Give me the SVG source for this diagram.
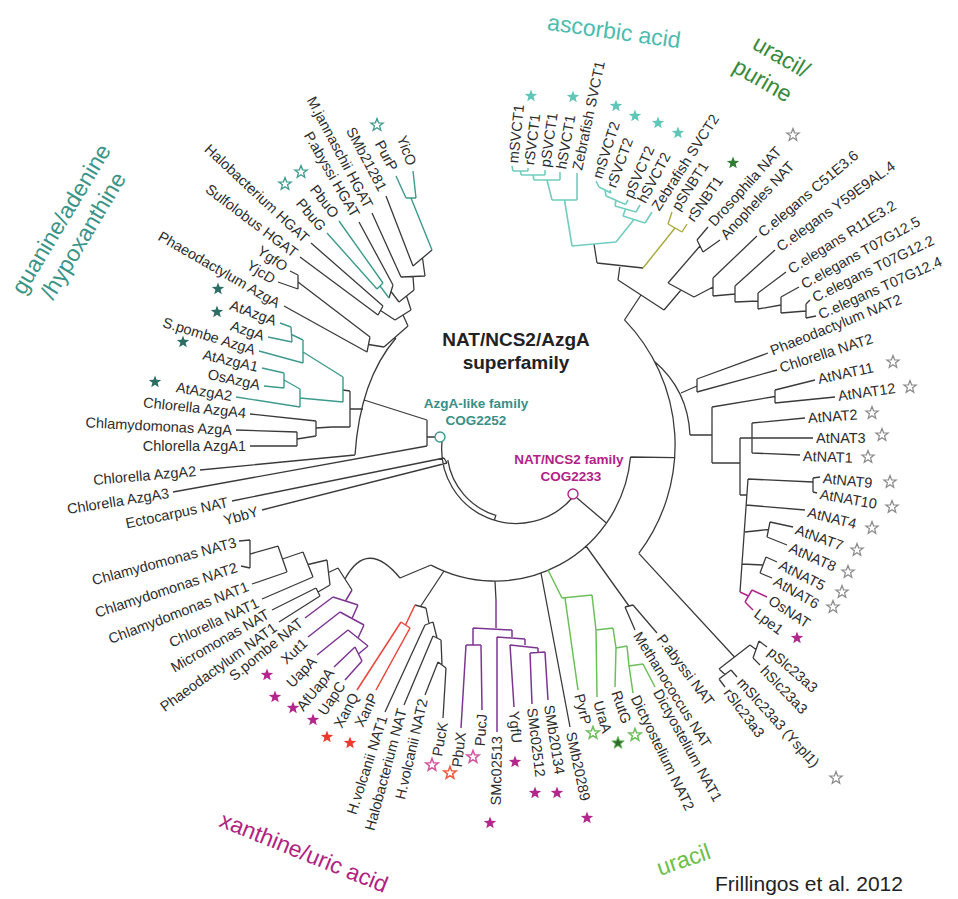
<svg xmlns="http://www.w3.org/2000/svg" width="958" height="899" viewBox="0 0 958 899">
<defs>
<path id="s" d="M0,-6.5 L1.6,-2.2 L6.2,-2 L2.6,0.8 L3.8,5.3 L0,2.7 L-3.8,5.3 L-2.6,0.8 L-6.2,-2 L-1.6,-2.2Z"/>
</defs>
<style>
.k{stroke:#3a3a3a;stroke-width:1.3;fill:none}
.tl{stroke:#3d9a8c;stroke-width:1.4;fill:none}
.ta{stroke:#72cdbf;stroke-width:1.6;fill:none}
.ol{stroke:#a8a83a;stroke-width:1.4;fill:none}
.pu{stroke:#7d3592;stroke-width:1.5;fill:none}
.rd{stroke:#e9473c;stroke-width:1.5;fill:none}
.gr{stroke:#6cbf5a;stroke-width:1.5;fill:none}
.mg{stroke:#b0278b;stroke-width:1.5;fill:none}
text{font-family:"Liberation Sans",Arial,sans-serif}
.t{font-size:14.5px;fill:#2d2d2d;dominant-baseline:central}
.e{text-anchor:end}
.g{font-size:23px}
.sf-tl{fill:#2c6e63}
.so-tl{fill:#fff;stroke:#3d9a8c;stroke-width:1.3}
.sf-ta{fill:#5fc6b8}
.sf-dg{fill:#2f7d32}
.so-gy{fill:#fff;stroke:#8a8a8a;stroke-width:1.2}
.sf-mg{fill:#b3278c}
.sf-rd{fill:#ec3b2e}
.so-pk{fill:#fff;stroke:#d6559f;stroke-width:1.5}
.so-or{fill:#fff;stroke:#ef5a3c;stroke-width:1.5}
.so-gr{fill:#fff;stroke:#6cbf5a;stroke-width:1.5}
.sf-dgo{fill:#2f6b2f;stroke:#6cbf5a;stroke-width:1}
</style>
<rect width="958" height="899" fill="#fff"/>

<g id="connectors">
<path class="k" d="M427 420 L427 446 M427 437 L435 437 M427 420 L364 400 M173 492 L427 446 M200 470 L355 455 M355 455 Q360 380 396 338
M250 414 L316 421 M236 430 L297 432 M250 446 L297 446 M297 432 L297 446 M297 439 L316 436 M316 421 L316 436 M316 428 L332 427
M332 427 L350 427 M350 391 L350 427 M350 409 L363 409 M343 390 L350 391
M386 196 L413 266 M432 250 L413 266 M422.5 258 L425 276 M372 213 L401 277 M401 277 L425 276 M413 276.5 L414 290
M359 222 L393 285 M393 285 L389 298 M391 291.5 L399 302 M414 290 L399 302 M406.5 296 L411 310
M311 243 L383 306 M300 257 L378 315 M383 306 L378 315 M380.5 310.5 L395 320 M411 310 L395 320 M403 315 L408 326
M290 271 L298 275 M278 282 L298 289 M298 275 L298 289 M298 282 L370 337 M284 306 L367 352 M370 337 L367 352 M368.5 344.5 L384 347 M408 326 L384 347"/>
<path class="tl" d="M413 171 L416 198 M396 176 L406 198 M406 198 L416 198 M411 198 L432 250
M339 221 L383 283 M327 233 L377 289 M383 283 L377 289 M380 286 L389 298
M280 323 L291 327 M268 337 L292 342 M291 327 L292 342 M291.5 334.5 L303 340 M259 351 L303 363 M303 340 L303 363 M303 352 L343 377
M262 368 L284 373 M264 386 L284 388 M284 373 L284 388 M284 380 L300 389 M236 397 L300 407 M300 389 L300 407 M300 398 L343 402 M343 377 L343 402"/>
<path class="k" d="M442 442 A74.4 74.4 0 0 0 573 497
M232 501 L444 458 M262 510 L447 463 M444 458 L447 463 M447.8 460.2 A69 69 0 0 0 495.8 515.4 L494.2 520.6
M624.5 319.9 A180 180 0 0 1 638.8 553.4 M630.5 457 A136 136 0 0 1 431.1 565.1 M630.5 457 L674.6 457.6 M577 498 L606.4 523
M654 361 Q688 390 690 435 M768 353 L697 379 M777 370 L697 392 M697 379 L697 392 M697 386 L681 393
M690 435 L712 435 M712 407 L712 463 M815 380 L775 390 M835 397 L775 403 M775 390 L775 403 M775 396.5 L712 407 M712 463 L740 463 M740 438 L740 495
M813 438 L740 438 M805 418 L752 423 M800 455 L752 453 M752 423 L752 453 M740 495 L747 495
M820 477 L813 478 M817 493 L813 492 M813 478 L813 492 M813 482 L748 479 M748 479 L740 592 M805 510 L746 505
M793 527 L770 522 M787 545 L767 537 M770 522 L767 537 M768.5 529.5 L745 532 M777 562 L766 557 M772 578 L760 573 M766 557 L760 573 M763 565 L742 564
M767 647 L759 641 M760 665 L753 658 M759 641 L753 658 M756 649.5 L750 645 M737 677 L731 670 M725 687 L719 679 M731 670 L719 679 M725 674.5 L719 669 M750 645 L719 669 M734.5 657 L638.8 553.4
M657 633 L633 605 M635 630 L625 607 M625 607 L633 605 M629 606 L586 546
M594 244 L597 263 M597 263 L643 268 M620 265.5 L618 280 M708 227 L697 240 M720 240 L703 252 M697 240 L703 252 M700 246 L668 283
M810 300 L806 304 M816 316 L806 318 M806 304 L806 318 M806 311 L781 313 M799 287 L781 297 M781 297 L781 313 M781 305 L758 309
M786 272 L758 293 M758 293 L758 309 M758 301 L735 302 M775 250 L735 286 M735 286 L735 302 M735 294 L713 296 M757 236 L713 278 M713 278 L713 296 M713 287 L694 297
M668 283 L694 297 M681 290 L664 310 M618 280 L664 310 M641 295 L624.5 320
M570 727 L541 573 M495 581 L496 600
M385 712 L425 625 M404 705 L433 636 M425 695 L438 662 M443 718 L446 668 M438 662 L446 668 M442 665 L441 640 M433 636 L441 640 M437 638 L433 622 M425 625 L433 622 M429 623.5 L426 608 M415 605 L426 608 M420.5 606.5 L444 571
M239 541 L250 540 M241 566 L250 568 M250 540 L250 568 M250 554 L278 546 M252 584 L287 572 M278 546 L287 572 M282.5 559 L303 552 M262 599 L313 577 M303 552 L313 577 M308 564.5 L327 560
M272 610 L316 588 M279 622 L320 596 M316 588 L320 596 M318 592 L330 585 M327 560 L330 585 M328.5 572.5 L338 568 M338 568 L352 590 M345 579 Q367 538 400 578 M400 578 L431 565"/>
<path class="mg" d="M767 597 L752 590 M753 610 L745 602 M752 590 L745 602 M748.5 596 L740 592"/>
<path class="ta" d="M512 166 L513 171 M528 168 L528 171 M513 171 L528 171 M520.5 171 L521 175 M545 170 L545 175 M521 175 L545 175 M533 175 L534 180 M560 172 L560 180 M534 180 L560 180 M547 180 L552 200 M577 173 L577 200 M552 200 L577 200 M564.5 200 L572 246
M596 181 L599 187 M610 190 L611 193 M599 187 L611 193 M605 190 L606 196 M628 200 L625.6 204.4 M606 196 L625.6 204.4 M616 200 L615 206 M640 205 L636 212 M615 206 L636 212 M625.5 209 L623 216 M652 212 L645 223 M623 216 L645 223 M634 219.5 L616 242 M572 246 L616 242"/>
<path class="ol" d="M672 212 L668 224 M687 224 L682 232 M668 224 L682 232 M675 228 L643 268"/>
<path class="gr" d="M548 570 L562 598 M562 598 L592 595 M578 690 L565 598 M592 595 L596 630 M596 630 L613 628 M597 697 L596 630 M613 628 L616 648 M616 648 L627 646 M615 687 L616 648 M627 646 L629 666 M629 666 L643 664 M633 693 L629 666 M655 687 L643 664"/>
<path class="pu" d="M496 600 L496 628 M473 628 L512 630 M473 628 L473 645 M466 645 L481 645 M482 710 L481 645 M461 728 L466 645 M512 630 L512 637 M497 637 L525 639 M497 732 L497 637 M525 639 L525 645 M510 645 L538 648 M514 707 L510 645 M538 648 L538 653 M530 653 L545 652 M532 704 L530 653 M548 700 L545 652
M305 618 L333 597 M308 637 L340 612 M317 655 L348 630 M334 667 L355 647 M345 680 L362 661 M355 647 L362 661 M358.5 654 L368 646 M348 630 L368 646 M358 638 L364 625 M340 612 L364 625 M352 618.5 L358 605 M333 597 L358 605 M345.5 601 L352 590"/>
<path class="rd" d="M357 690 L401 622 M376 690 L410 628 M401 622 L410 628 M405.5 625 L415 605"/>
</g>

<g id="root-azga"><circle cx="440" cy="437" r="5" fill="#fff" stroke="#3d9a8c" stroke-width="1.4"/></g>
<g id="root-nat"><circle cx="573" cy="494" r="5" fill="#fff" stroke="#b0278b" stroke-width="1.4"/></g>

<g id="title"><text x="516" y="346" text-anchor="middle" font-size="19" font-weight="bold" fill="#222">NAT/NCS2/AzgA</text><text x="516" y="369" text-anchor="middle" font-size="19" font-weight="bold" fill="#222">superfamily</text></g>
<g id="azga-family"><text x="476" y="408" text-anchor="middle" font-size="13.5" font-weight="bold" fill="#3a8f86">AzgA-like family</text><text x="476" y="425" text-anchor="middle" font-size="13.5" font-weight="bold" fill="#3a8f86">COG2252</text></g>
<g id="nat-family"><text x="569" y="464" text-anchor="middle" font-size="13.5" font-weight="bold" fill="#b0238a">NAT/NCS2 family</text><text x="571" y="481" text-anchor="middle" font-size="13.5" font-weight="bold" fill="#b0238a">COG2233</text></g>

<g id="grp-guanine" fill="#3a9488"><text class="g" transform="translate(24 296) rotate(-59)">guanine/adenine</text><text class="g" transform="translate(53 301) rotate(-59)">/hypoxanthine</text></g>
<g id="grp-ascorbic"><text class="g" text-anchor="middle" fill="#4cbcae" transform="translate(613 39) rotate(8)">ascorbic acid</text></g>
<g id="grp-uracilpurine" fill="#3b8a3b"><text class="g" transform="translate(751 48) rotate(30)">uracil/</text><text class="g" transform="translate(731 71) rotate(30)">purine</text></g>
<g id="grp-xanthine"><text class="g" fill="#b0237f" transform="translate(218 826) rotate(22)">xanthine/uric acid</text></g>
<g id="grp-uracil"><text class="g" fill="#6cbf4a" transform="translate(660 876) rotate(-19)">uracil</text></g>
<g id="credit"><text x="715" y="891" font-size="21" fill="#222">Frillingos et al. 2012</text></g>

<g id="leaves-guanine">
<g id="n-YicO"><text class="t e" transform="translate(412 165) rotate(70)">YicO</text></g>
<g id="n-PurP"><text class="t e" transform="translate(394 170) rotate(62)">PurP</text><use href="#s" x="377" y="125" class="so-tl"/></g>
<g id="n-SMb21281"><text class="t e" transform="translate(383 190) rotate(62)">SMb21281</text></g>
<g id="n-Mjann"><text class="t e" transform="translate(369 207) rotate(62)">M.jannaschii HGAT</text></g>
<g id="n-Pabyssi-HGAT"><text class="t e" transform="translate(356 216) rotate(60)">P.abyssi HGAT</text></g>
<g id="n-PbuO"><text class="t e" transform="translate(336 216) rotate(52)">PbuO</text><use href="#s" x="301" y="172" class="so-tl"/></g>
<g id="n-PbuG"><text class="t e" transform="translate(323 229) rotate(50)">PbuG</text><use href="#s" x="285" y="184" class="so-tl"/></g>
<g id="n-Halo-HGAT"><text class="t e" transform="translate(307 240) rotate(43)">Halobacterium HGAT</text></g>
<g id="n-Sulfo-HGAT"><text class="t e" transform="translate(296 254) rotate(37)">Sulfolobus HGAT</text></g>
<g id="n-YgfO"><text class="t e" transform="translate(286 268) rotate(35)">YgfO</text></g>
<g id="n-YjcD"><text class="t e" transform="translate(274 280) rotate(32)">YjcD</text></g>
<g id="n-Phaeo-AzgA"><text class="t e" transform="translate(279 304) rotate(30)">Phaeodactylum AzgA</text></g>
<g id="n-AtAzgA"><text class="t e" transform="translate(276 321) rotate(20)">AtAzgA</text><use href="#s" x="218" y="289" class="sf-tl"/></g>
<g id="n-AzgA"><text class="t e" transform="translate(264 336) rotate(18)">AzgA</text><use href="#s" x="217" y="312" class="sf-tl"/></g>
<g id="n-Spombe-AzgA"><text class="t e" transform="translate(255 350) rotate(17)">S.pombe AzgA</text></g>
<g id="n-AtAzgA1"><text class="t e" transform="translate(258 367) rotate(13)">AtAzgA1</text><use href="#s" x="183" y="342" class="sf-tl"/></g>
<g id="n-OsAzgA"><text class="t e" transform="translate(260 385) rotate(12)">OsAzgA</text></g>
<g id="n-AtAzgA2"><text class="t e" transform="translate(232 396) rotate(9)">AtAzgA2</text><use href="#s" x="155" y="382" class="sf-tl"/></g>
<g id="n-Chlorella-AzgA4"><text class="t e" transform="translate(246 413) rotate(6)">Chlorella AzgA4</text></g>
<g id="n-Chlamy-AzgA"><text class="t e" transform="translate(232 430) rotate(3)">Chlamydomonas AzgA</text></g>
<g id="n-Chlorella-AzgA1"><text class="t e" transform="translate(246 446) rotate(0)">Chlorella AzgA1</text></g>
<g id="n-Chlorella-AzgA2"><text class="t e" transform="translate(196 471) rotate(-5)">Chlorella AzgA2</text></g>
<g id="n-Chlorella-AzgA3"><text class="t e" transform="translate(169 493) rotate(-9)">Chlorella AzgA3</text></g>
<g id="n-Ectocarpus"><text class="t e" transform="translate(228 502) rotate(-12)">Ectocarpus NAT</text></g>
<g id="n-YbbY"><text class="t e" transform="translate(258 511) rotate(-16)">YbbY</text></g>
</g>

<g id="leaves-bottomleft">
<g id="n-Chlamy-NAT3"><text class="t e" transform="translate(236 542) rotate(-15)">Chlamydomonas NAT3</text></g>
<g id="n-Chlamy-NAT2"><text class="t e" transform="translate(237 567) rotate(-18)">Chlamydomonas NAT2</text></g>
<g id="n-Chlamy-NAT1"><text class="t e" transform="translate(248 586) rotate(-21)">Chlamydomonas NAT1</text></g>
<g id="n-Chlorella-NAT1"><text class="t e" transform="translate(258 602) rotate(-25)">Chlorella NAT1</text></g>
<g id="n-Micromonas"><text class="t e" transform="translate(268 613) rotate(-30)">Micromonas NAT</text></g>
<g id="n-Phaeo-NAT1"><text class="t e" transform="translate(275 626) rotate(-36)">Phaeodactylum NAT1</text></g>
<g id="n-Spombe-NAT"><text class="t e" transform="translate(301 621) rotate(-39)">S.pombe NAT</text></g>
<g id="n-Xut1"><text class="t e" transform="translate(305 641) rotate(-43)">Xut1</text><use href="#s" x="267" y="675" class="sf-mg"/></g>
<g id="n-UapA"><text class="t e" transform="translate(314 659) rotate(-46)">UapA</text><use href="#s" x="275" y="697" class="sf-mg"/></g>
<g id="n-AfUapA"><text class="t e" transform="translate(331 670) rotate(-51)">AfUapA</text><use href="#s" x="293" y="708" class="sf-mg"/></g>
<g id="n-UapC"><text class="t e" transform="translate(342 683) rotate(-56)">UapC</text><use href="#s" x="313" y="720" class="sf-mg"/></g>
<g id="n-XanQ"><text class="t e" transform="translate(355 694) rotate(-62)">XanQ</text><use href="#s" x="327" y="737" class="sf-rd"/></g>
<g id="n-XanP"><text class="t e" transform="translate(374 694) rotate(-64)">XanP</text><use href="#s" x="350" y="743" class="sf-rd"/></g>
<g id="n-Hvol-NAT1"><text class="t e" transform="translate(383 716) rotate(-72)">H.volcanii NAT1</text></g>
<g id="n-Halo-NAT"><text class="t e" transform="translate(402 709) rotate(-75)">Halobacterium NAT</text></g>
<g id="n-Hvol-NAT2"><text class="t e" transform="translate(423 699) rotate(-77)">H.volcanii NAT2</text></g>
<g id="n-PucK"><text class="t e" transform="translate(443 722) rotate(-80)">PucK</text><use href="#s" x="432" y="765" class="so-pk"/></g>
<g id="n-PbuX"><text class="t e" transform="translate(461 732) rotate(-83)">PbuX</text><use href="#s" x="450" y="773" class="so-or"/></g>
<g id="n-PucJ"><text class="t e" transform="translate(482 714) rotate(-86)">PucJ</text><use href="#s" x="473" y="757" class="so-pk"/></g>
<g id="n-SMc02513"><text class="t e" transform="translate(497 736) rotate(-89)">SMc02513</text><use href="#s" x="490" y="823" class="sf-mg"/></g>
</g>

<g id="leaves-bottomright">
<g id="n-YgfU"><text class="t" transform="translate(514 711) rotate(85)">YgfU</text><use href="#s" x="515" y="762" class="sf-mg"/></g>
<g id="n-SMc02512"><text class="t" transform="translate(532 708) rotate(83)">SMc02512</text><use href="#s" x="535" y="793" class="sf-mg"/></g>
<g id="n-SMb20134"><text class="t" transform="translate(549 705) rotate(81)">SMb20134</text><use href="#s" x="557" y="793" class="sf-mg"/></g>
<g id="n-SMb20289"><text class="t" transform="translate(571 732) rotate(78)">SMb20289</text><use href="#s" x="587" y="818" class="sf-mg"/></g>
<g id="n-PyrP"><text class="t" transform="translate(579 694) rotate(76)">PyrP</text><use href="#s" x="593" y="733" class="so-gr"/></g>
<g id="n-UraA"><text class="t" transform="translate(598 701) rotate(74)">UraA</text><use href="#s" x="618" y="743" class="sf-dgo"/></g>
<g id="n-RutG"><text class="t" transform="translate(616 691) rotate(71)">RutG</text><use href="#s" x="635" y="735" class="so-gr"/></g>
<g id="n-Dicty-NAT2"><text class="t" transform="translate(635 696) rotate(64)">Dictyostelium NAT2</text></g>
<g id="n-Dicty-NAT1"><text class="t" transform="translate(657 690) rotate(61)">Dictyostelium NAT1</text></g>
<g id="n-Methano"><text class="t" transform="translate(637 633) rotate(58)">Methanococcus NAT</text></g>
<g id="n-Pabyssi-NAT"><text class="t" transform="translate(660 636) rotate(53)">P.abyssi NAT</text></g>
<g id="n-rSlc"><text class="t" transform="translate(727 690) rotate(53)">rSlc23a3</text></g>
<g id="n-mSlc"><text class="t" transform="translate(740 680) rotate(48)">mSlc23a3 (Yspl1)</text><use href="#s" x="836" y="778" class="so-gy"/></g>
<g id="n-hSlc"><text class="t" transform="translate(763 668) rotate(46)">hSlc23a3</text></g>
<g id="n-pSlc"><text class="t" transform="translate(770 650) rotate(41)">pSlc23a3</text></g>
<g id="n-Lpe1"><text class="t" transform="translate(756 612) rotate(37)">Lpe1</text><use href="#s" x="797" y="638" class="sf-mg"/></g>
<g id="n-OsNAT"><text class="t" transform="translate(770 599) rotate(33)">OsNAT</text></g>
</g>

<g id="leaves-right">
<g id="n-AtNAT6"><text class="t" transform="translate(775 580) rotate(30)">AtNAT6</text><use href="#s" x="833" y="607" class="so-gy"/></g>
<g id="n-AtNAT5"><text class="t" transform="translate(780 564) rotate(27)">AtNAT5</text><use href="#s" x="842" y="592" class="so-gy"/></g>
<g id="n-AtNAT8"><text class="t" transform="translate(790 547) rotate(24)">AtNAT8</text><use href="#s" x="848" y="572" class="so-gy"/></g>
<g id="n-AtNAT7"><text class="t" transform="translate(796 529) rotate(20)">AtNAT7</text><use href="#s" x="857" y="550" class="so-gy"/></g>
<g id="n-AtNAT4"><text class="t" transform="translate(808 512) rotate(14)">AtNAT4</text><use href="#s" x="872" y="528" class="so-gy"/></g>
<g id="n-AtNAT10"><text class="t" transform="translate(820 494) rotate(10)">AtNAT10</text><use href="#s" x="892" y="507" class="so-gy"/></g>
<g id="n-AtNAT9"><text class="t" transform="translate(823 478) rotate(6)">AtNAT9</text><use href="#s" x="890" y="482" class="so-gy"/></g>
<g id="n-AtNAT1"><text class="t" transform="translate(803 456) rotate(2)">AtNAT1</text><use href="#s" x="868" y="457" class="so-gy"/></g>
<g id="n-AtNAT3"><text class="t" transform="translate(816 438) rotate(0)">AtNAT3</text><use href="#s" x="882" y="435" class="so-gy"/></g>
<g id="n-AtNAT2"><text class="t" transform="translate(808 418) rotate(-4)">AtNAT2</text><use href="#s" x="872" y="413" class="so-gy"/></g>
<g id="n-AtNAT12"><text class="t" transform="translate(838 396) rotate(-8)">AtNAT12</text><use href="#s" x="910" y="387" class="so-gy"/></g>
<g id="n-AtNAT11"><text class="t" transform="translate(818 379) rotate(-12)">AtNAT11</text><use href="#s" x="893" y="362" class="so-gy"/></g>
<g id="n-Chlorella-NAT2"><text class="t" transform="translate(780 368) rotate(-18)">Chlorella NAT2</text></g>
<g id="n-Phaeo-NAT2"><text class="t" transform="translate(771 351) rotate(-22)">Phaeodactylum NAT2</text></g>
<g id="n-T07G12.4"><text class="t" transform="translate(819 315) rotate(-24)">C.elegans T07G12.4</text></g>
<g id="n-T07G12.2"><text class="t" transform="translate(813 298) rotate(-26)">C.elegans T07G12.2</text></g>
<g id="n-T07G12.5"><text class="t" transform="translate(802 285) rotate(-29)">C.elegans T07G12.5</text></g>
<g id="n-R11E3.2"><text class="t" transform="translate(789 270) rotate(-32)">C.elegans R11E3.2</text></g>
<g id="n-Y59E9AL.4"><text class="t" transform="translate(778 248) rotate(-36)">C.elegans Y59E9AL.4</text></g>
<g id="n-C51E3.6"><text class="t" transform="translate(760 234) rotate(-40)">C.elegans C51E3.6</text></g>
<g id="n-Anopheles"><text class="t" transform="translate(723 237) rotate(-47)">Anopheles NAT</text></g>
<g id="n-Drosophila"><text class="t" transform="translate(711 224) rotate(-48)">Drosophila NAT</text><use href="#s" x="793" y="135" class="so-gy"/></g>
<g id="n-rSNBT1"><text class="t" transform="translate(690 220) rotate(-55)">rSNBT1</text><use href="#s" x="733" y="163" class="sf-dg"/></g>
<g id="n-pSNBT1"><text class="t" transform="translate(675 209) rotate(-57)">pSNBT1</text></g>
</g>

<g id="leaves-top">
<g id="n-Zf-SVCT2"><text class="t" transform="translate(655 209) rotate(-57)">Zebrafish SVCT2</text></g>
<g id="n-hSVCT2"><text class="t" transform="translate(641 202) rotate(-62)">hSVCT2</text><use href="#s" x="678" y="133" class="sf-ta"/></g>
<g id="n-pSVCT2"><text class="t" transform="translate(628 197) rotate(-66)">pSVCT2</text><use href="#s" x="658" y="123" class="sf-ta"/></g>
<g id="n-rSVCT2"><text class="t" transform="translate(611 187) rotate(-70)">rSVCT2</text><use href="#s" x="635" y="116" class="sf-ta"/></g>
<g id="n-mSVCT2"><text class="t" transform="translate(597 178) rotate(-72)">mSVCT2</text><use href="#s" x="616" y="106" class="sf-ta"/></g>
<g id="n-Zf-SVCT1"><text class="t" transform="translate(577 170) rotate(-78)">Zebrafish SVCT1</text></g>
<g id="n-hSVCT1"><text class="t" transform="translate(561 169) rotate(-80)">hSVCT1</text><use href="#s" x="573" y="97" class="sf-ta"/></g>
<g id="n-pSVCT1"><text class="t" transform="translate(545 167) rotate(-82)">pSVCT1</text></g>
<g id="n-rSVCT1"><text class="t" transform="translate(529 165) rotate(-83)">rSVCT1</text><use href="#s" x="531" y="96" class="sf-ta"/></g>
<g id="n-mSVCT1"><text class="t" transform="translate(513 163) rotate(-84)">mSVCT1</text></g>
</g>
</svg>
